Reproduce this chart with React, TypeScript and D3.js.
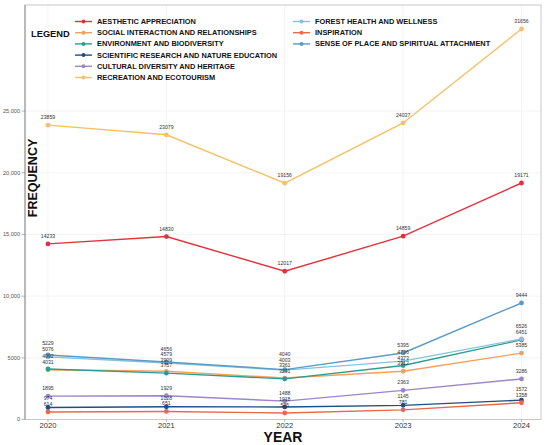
import { useEffect, useRef } from "react";
import * as d3 from "d3";

const years = [2020, 2021, 2022, 2023, 2024];

const categories = [
  "AESTHETIC APPRECIATION",
  "SOCIAL INTERACTION AND RELATIONSHIPS",
  "ENVIRONMENT AND BIODIVERSITY",
  "SCIENTIFIC RESEARCH AND NATURE EDUCATION",
  "CULTURAL DIVERSITY AND HERITAGE",
  "RECREATION AND ECOTOURISM",
  "FOREST HEALTH AND WELLNESS",
  "INSPIRATION",
  "SENSE OF PLACE AND SPIRITUAL ATTACHMENT",
];

const colors = [
  "#e4303c",
  "#f4a05c",
  "#2a9d8f",
  "#1f4e80",
  "#9d85c6",
  "#f6c066",
  "#84c4d9",
  "#e8694c",
  "#5a9cc6",
];

const aesthetic = [14233, 14830, 12017, 14859, 19171];
const social = [4031, 3909, 3361, 3912, 5385];
const environment = [4092, 3757, 3291, 4373, 6451];
const scientific = [974, 1028, 1018, 1145, 1572];
const cultural = [1895, 1929, 1488, 2363, 3286];
const recreation = [23859, 23079, 19156, 24037, 31656];
const forest = [5076, 4579, 4003, 4736, 6526];
const inspiration = [614, 651, 525, 781, 1358];
const senseOfPlace = [5229, 4656, 4040, 5395, 9444];

const yTicks = [0, 5000, 10000, 15000, 20000, 25000];
const yTickLabels = ["0", "5000", "10,000", "15,000", "20,000", "25,000"];

const W = 550;
const H = 445;
const FONT = "'Liberation Sans', Arial, sans-serif";

export default function App() {
  const ref = useRef<SVGSVGElement | null>(null);

  useEffect(() => {
    if (!ref.current) return;
    const svg = d3.select(ref.current);
    svg.selectAll("*").remove();

    const series = [aesthetic, social, environment, scientific, cultural, recreation, forest, inspiration, senseOfPlace]
      .map((values, i) => ({ name: categories[i], color: colors[i], values }));

    const panel = { left: 25, right: 541, top: 5, bottom: 419.5 };

    const x = d3.scaleLinear().domain([2020, 2024]).range([48, 521.5]);
    const y = d3.scaleLinear().domain([0, 33600]).range([panel.bottom, panel.top]);

    svg.append("rect").attr("width", W).attr("height", H).attr("fill", "#fff");

    // grid
    const grid = svg.append("g");
    grid.selectAll("line.h").data(yTicks).enter().append("line")
      .attr("x1", panel.left).attr("x2", panel.right)
      .attr("y1", d => y(d)).attr("y2", d => y(d))
      .attr("stroke", "#ededed").attr("stroke-width", 0.6);
    grid.selectAll("line.v").data(years).enter().append("line")
      .attr("y1", panel.top).attr("y2", panel.bottom)
      .attr("x1", d => x(d)).attr("x2", d => x(d))
      .attr("stroke", "#ededed").attr("stroke-width", 0.6);

    // panel frame
    svg.append("rect")
      .attr("x", panel.left).attr("y", panel.top)
      .attr("width", panel.right - panel.left).attr("height", panel.bottom - panel.top)
      .attr("fill", "none").attr("stroke", "#c8c8c8").attr("stroke-width", 1);
    svg.append("line")
      .attr("x1", panel.left).attr("x2", panel.left)
      .attr("y1", panel.top).attr("y2", panel.bottom)
      .attr("stroke", "#b5b5b5").attr("stroke-width", 1.8);

    // y axis ticks
    const yAxis = svg.append("g");
    yAxis.selectAll("line").data(yTicks).enter().append("line")
      .attr("x1", 21.5).attr("x2", panel.left)
      .attr("y1", d => y(d)).attr("y2", d => y(d))
      .attr("stroke", "#888").attr("stroke-width", 0.6);
    yAxis.selectAll("text").data(yTicks).enter().append("text")
      .attr("x", 20).attr("y", d => y(d))
      .attr("dy", "0.35em")
      .attr("text-anchor", "end")
      .attr("font-family", FONT).attr("font-size", 5.6).attr("fill", "#555")
      .text((_, i) => yTickLabels[i]);

    // x axis ticks
    const xAxis = svg.append("g");
    xAxis.selectAll("line").data(years).enter().append("line")
      .attr("x1", d => x(d)).attr("x2", d => x(d))
      .attr("y1", panel.bottom).attr("y2", panel.bottom + 2.5)
      .attr("stroke", "#888").attr("stroke-width", 0.6);
    xAxis.selectAll("text").data(years).enter().append("text")
      .attr("x", d => x(d)).attr("y", 425.5)
      .attr("dy", "0.35em")
      .attr("text-anchor", "middle")
      .attr("font-family", FONT).attr("font-size", 7.6).attr("fill", "#333")
      .text(d => String(d));

    // axis titles
    svg.append("text")
      .attr("x", 283).attr("y", 437).attr("dy", "0.35em")
      .attr("text-anchor", "middle")
      .attr("font-family", FONT).attr("font-weight", "bold").attr("font-size", 14)
      .attr("fill", "#111")
      .text("YEAR");
    svg.append("text")
      .attr("transform", "translate(33,178) rotate(-90)")
      .attr("dy", "0.35em")
      .attr("text-anchor", "middle")
      .attr("font-family", FONT).attr("font-weight", "bold").attr("font-size", 12.5)
      .attr("fill", "#111")
      .text("FREQUENCY");

    // lines and points
    const line = d3.line<number>().x((_, i) => x(years[i])).y(d => y(d));
    const marks = svg.append("g");
    series.forEach(s => {
      marks.append("path")
        .attr("d", line(s.values)!)
        .attr("fill", "none")
        .attr("stroke", s.color)
        .attr("stroke-width", 1.4);
      marks.selectAll(null).data(s.values).enter().append("circle")
        .attr("cx", (_, i) => x(years[i]))
        .attr("cy", d => y(d))
        .attr("r", 2.4)
        .attr("fill", s.color);
    });

    // value labels, stacked upwards per year so close values don't collide
    const labels = svg.append("g");
    years.forEach((yr, i) => {
      const items = series
        .map(s => ({ v: s.values[i], ly: y(s.values[i]) - 6 }))
        .sort((a, b) => a.v - b.v);
      for (let k = 1; k < items.length; k++) {
        items[k].ly = Math.min(items[k].ly, items[k - 1].ly - 5.5);
      }
      labels.selectAll(null).data(items).enter().append("text")
        .attr("x", x(yr)).attr("y", d => d.ly)
        .attr("text-anchor", "middle")
        .attr("font-family", FONT).attr("font-size", 5.2).attr("fill", "#333")
        .text(d => String(d.v));
    });

    // legend
    const legend = svg.append("g");
    legend.append("text")
      .attr("x", 31).attr("y", 33.5).attr("dy", "0.35em")
      .attr("font-family", FONT).attr("font-weight", "bold").attr("font-size", 9.3)
      .attr("fill", "#111")
      .text("LEGEND");
    series.forEach((s, i) => {
      const col = i < 6 ? 0 : 1;
      const row = i < 6 ? i : i - 6;
      const lx = col === 0 ? 75 : 293;
      const ly = 21.5 + row * 11.2;
      const g = legend.append("g");
      g.append("line")
        .attr("x1", lx).attr("x2", lx + 17)
        .attr("y1", ly).attr("y2", ly)
        .attr("stroke", s.color).attr("stroke-width", 1.4);
      g.append("circle")
        .attr("cx", lx + 8.5).attr("cy", ly).attr("r", 2)
        .attr("fill", s.color);
      g.append("text")
        .attr("x", lx + 22).attr("y", ly).attr("dy", "0.35em")
        .attr("font-family", FONT).attr("font-weight", "bold").attr("font-size", 7.4)
        .attr("fill", "#111")
        .text(s.name);
    });
  }, []);

  return (
    <div style={{ position: "fixed", left: 0, top: 0 }}>
      <svg ref={ref} width={W} height={H} style={{ display: "block" }} />
    </div>
  );
}
